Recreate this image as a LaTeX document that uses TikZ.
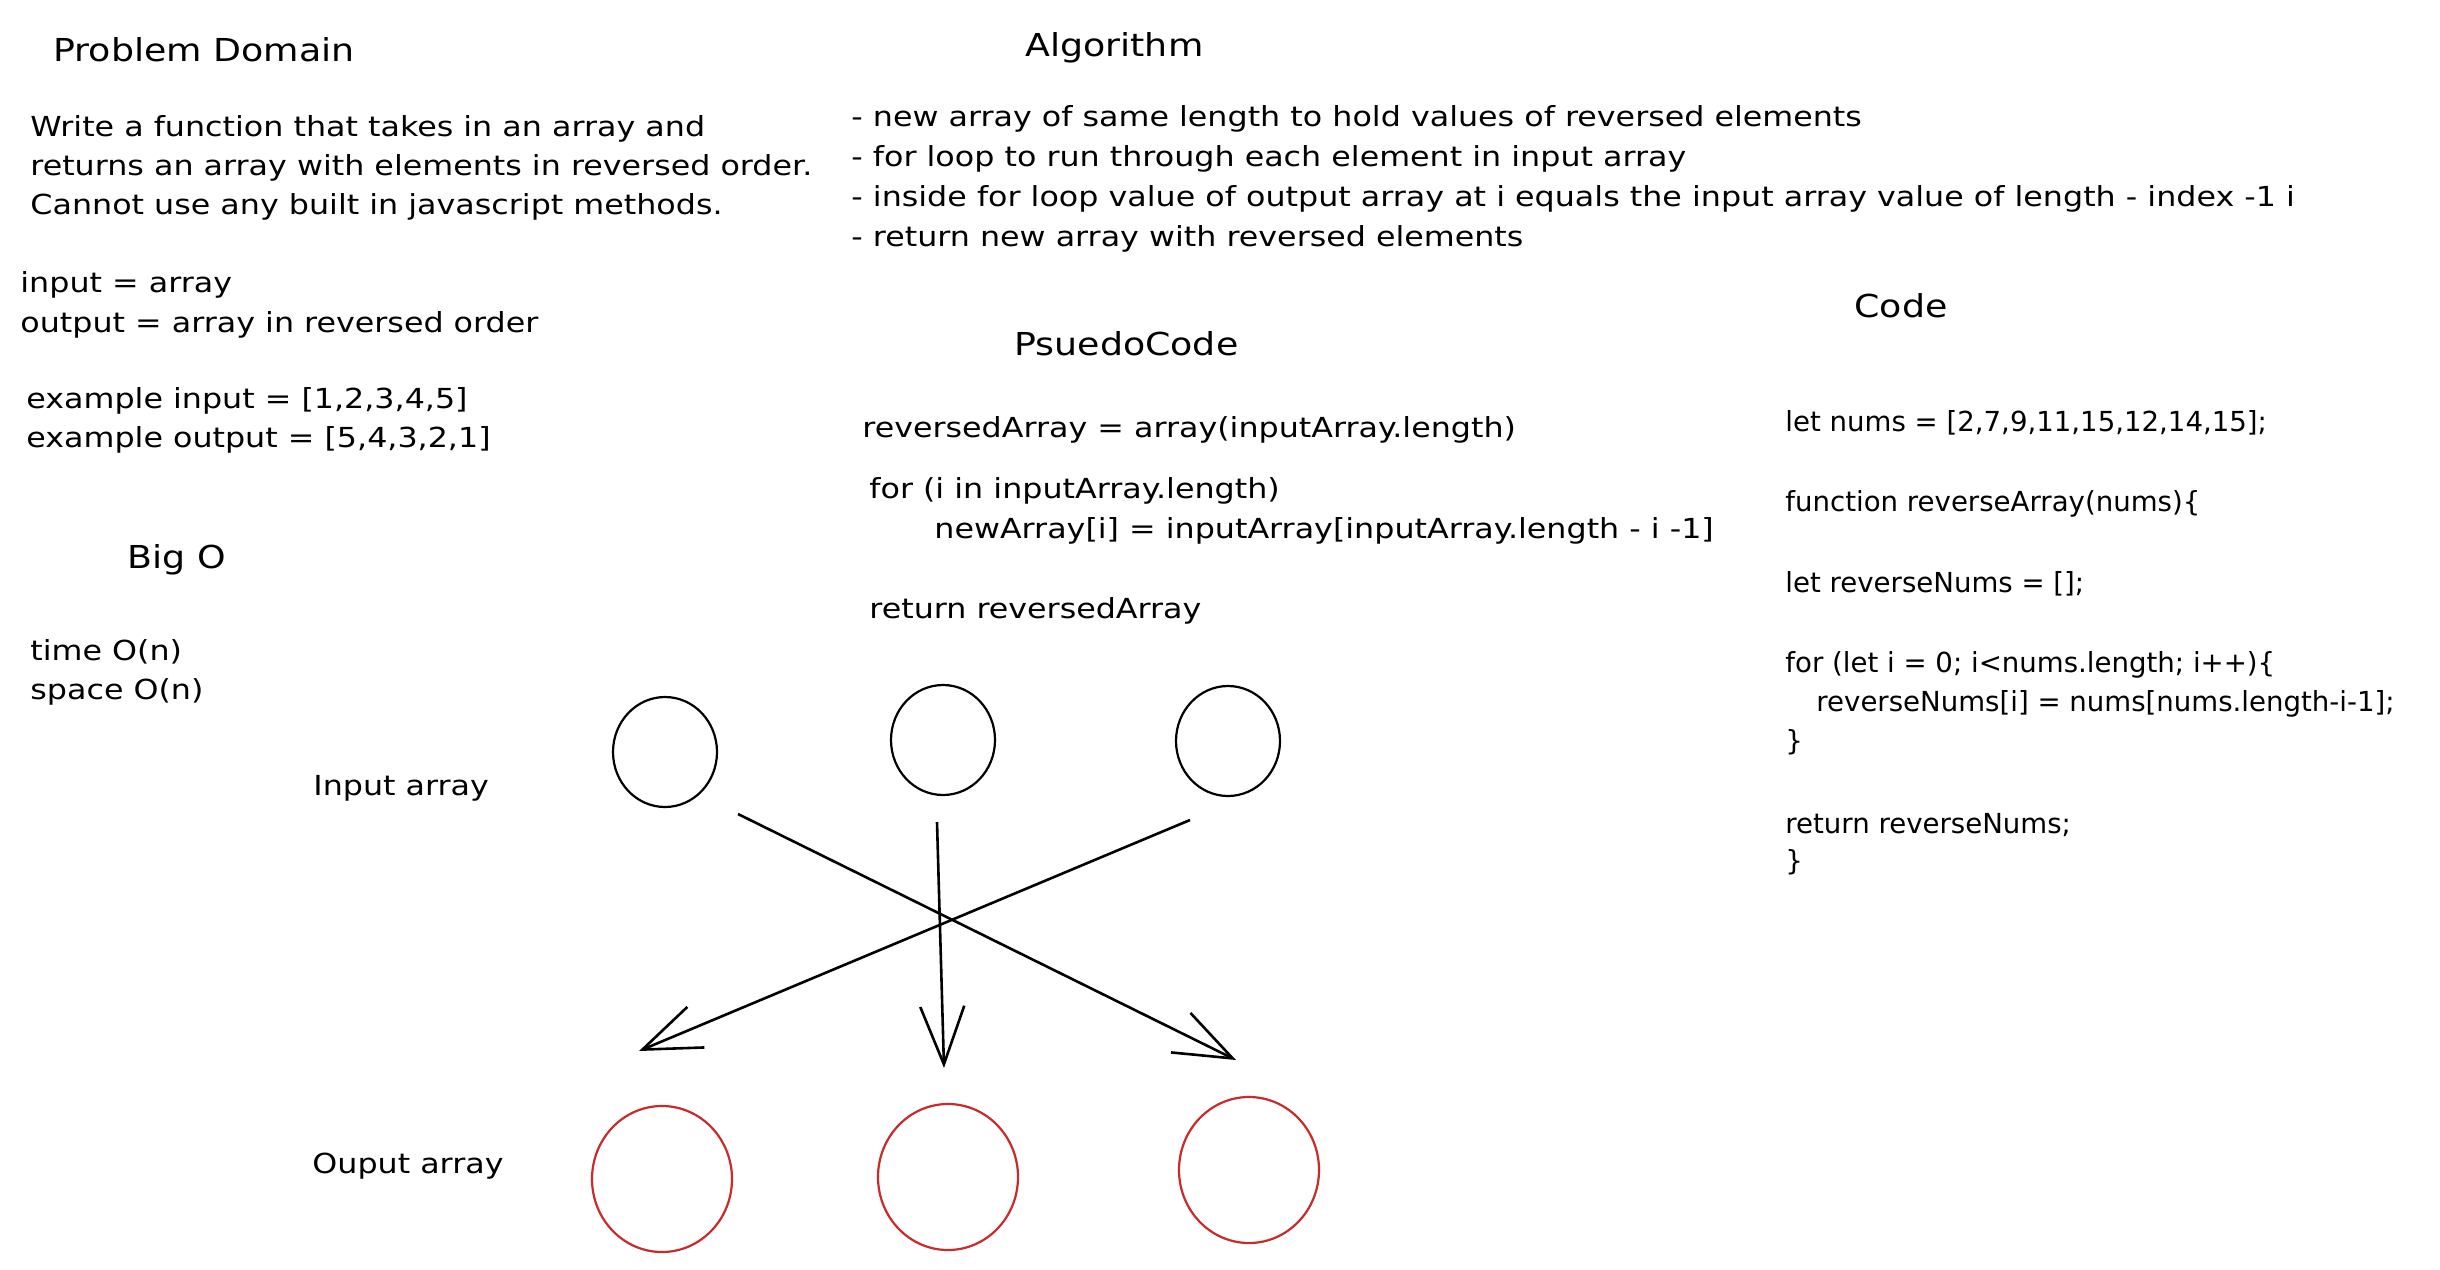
\documentclass[tikz,border=0pt]{standalone}
\usepackage{fontspec}
\setmainfont{DejaVu Sans}[FakeStretch=1.15]
\newfontfamily\codefont{DejaVu Sans}
\usepackage{tikz}
\usetikzlibrary{shapes.geometric,arrows.meta}
\definecolor{sketch_red}{RGB}{201,42,42}

\begin{document}
\begin{tikzpicture}[x=0.5pt,y=-0.5pt]
		\tikzstyle{txt}=[anchor=base west,inner sep=0pt,font=\fontsize{13.8}{16}\selectfont];
		\tikzstyle{code_txt}=[anchor=base west,inner sep=0pt,font=\codefont\fontsize{13.8}{16}\selectfont];
		\tikzstyle{head}=[anchor=base west,inner sep=0pt,font=\fontsize{15.8}{18}\selectfont];
		\tikzstyle{in_elem}=[draw,ellipse,line width=1.1pt,minimum width=52pt,minimum height=55pt];
		\tikzstyle{out_elem}=[draw=sketch_red,ellipse,line width=1.1pt,minimum width=70pt,minimum height=73pt];
		\tikzstyle{swap_arrow}=[line width=1.3pt,-{Straight Barb[length=29pt,width=22pt]}];

		\fill[white] (0,0) rectangle (2440,1269);
		\useasboundingbox (0,0) rectangle (2440,1269);

		% problem domain
		\node[head] (pd_title) at (53,61) {Problem Domain};
		\node[txt] (pd_1) at (30,136) {Write a function that takes in an array and};
		\node[txt] (pd_2) at (30,175) {returns an array with elements in reversed order.};
		\node[txt] (pd_3) at (30,214) {Cannot use any built in javascript methods.};
		\node[txt] (io_in) at (20,292) {input = array};
		\node[txt] (io_out) at (20,332) {output = array in reversed order};
		\node[txt] (ex_in) at (26,408) {example input = [1,2,3,4,5]};
		\node[txt] (ex_out) at (26,447) {example output = [5,4,3,2,1]};

		\node[head] (bigo_title) at (127,568) {Big O};
		\node[txt] (bigo_t) at (30,660) {time O(n)};
		\node[txt] (bigo_s) at (30,699) {space O(n)};

		% algorithm
		\node[head] (alg_title) at (1025,56) {Algorithm};
		\node[txt] (alg_1) at (851,126) {- new array of same length to hold values of reversed elements};
		\node[txt] (alg_2) at (851,166) {- for loop to run through each element in input array};
		\node[txt] (alg_3) at (851,206) {- inside for loop value of output array at i equals the input array value of length - index -1 i};
		\node[txt] (alg_4) at (851,246) {- return new array with reversed elements};

		\node[head] (ps_title) at (1014,355) {PsuedoCode};
		\node[txt] (ps_1) at (862,437) {reversedArray = array(inputArray.length)};
		\node[txt] (ps_2) at (869,498) {for (i in inputArray.length)};
		\node[txt] (ps_3) at (934,538) {newArray[i] = inputArray[inputArray.length - i -1]};
		\node[txt] (ps_4) at (869,618) {return reversedArray};

		% code
		\node[head] (code_title) at (1854,317) {Code};
		\node[code_txt] (code_1) at (1785,431) {let nums = [2,7,9,11,15,12,14,15];};
		\node[code_txt] (code_2) at (1785,511) {function reverseArray(nums)\{};
		\node[code_txt] (code_3) at (1785,592) {let reverseNums = [];};
		\node[code_txt] (code_4) at (1785,672) {for (let i = 0; i<nums.length; i++)\{};
		\node[code_txt] (code_5) at (1816,711) {reverseNums[i] = nums[nums.length-i-1];};
		\node[code_txt] (code_6) at (1785,750) {\}};
		\node[code_txt] (code_7) at (1785,833) {return reverseNums;};
		\node[code_txt] (code_8) at (1785,870) {\}};

		% arrays
		\node[txt] (in_label) at (313,795) {Input array};
		\node[txt] (out_label) at (312,1173) {Ouput array};

		\node[in_elem] (in_1) at (665,752) {};
		\node[in_elem] (in_2) at (943,740) {};
		\node[in_elem] (in_3) at (1228,741) {};
		\node[out_elem] (out_1) at (662,1179) {};
		\node[out_elem] (out_2) at (948,1177) {};
		\node[out_elem] (out_3) at (1249,1170) {};

		\coordinate (sw_s1) at (738,814);
		\coordinate (sw_e1) at (1236,1060);
		\coordinate (sw_s2) at (937,822);
		\coordinate (sw_e2) at (944,1068);
		\coordinate (sw_s3) at (1190,820);
		\coordinate (sw_e3) at (639,1051);
		\draw[swap_arrow] (sw_s1) -- (sw_e1);
		\draw[swap_arrow] (sw_s2) -- (sw_e2);
		\draw[swap_arrow] (sw_s3) -- (sw_e3);
\end{tikzpicture}
\end{document}
